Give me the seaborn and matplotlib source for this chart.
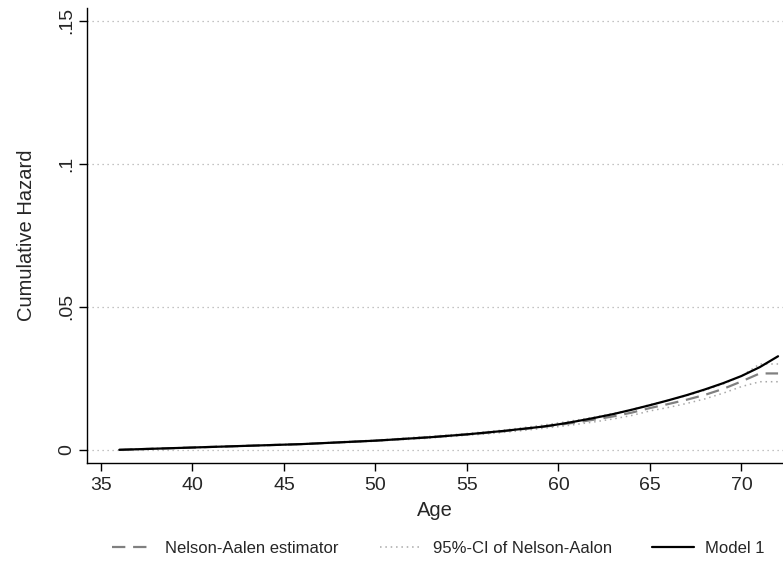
import matplotlib
matplotlib.use("Agg")
import matplotlib.pyplot as plt
import seaborn as sns
import numpy as np
import pandas as pd
from matplotlib.lines import Line2D

ages = list(range(36, 73))
model1 = [0.0000, 0.0002, 0.0004, 0.0006, 0.0008, 0.0010, 0.0012, 0.0014, 0.0016, 0.0018,
          0.0020, 0.0023, 0.0026, 0.0029, 0.0032, 0.0036, 0.0040, 0.0044, 0.0049, 0.0054,
          0.0060, 0.0066, 0.0073, 0.0080, 0.0089, 0.0100, 0.0112, 0.0125, 0.0140, 0.0156,
          0.0173, 0.0191, 0.0211, 0.0233, 0.0258, 0.0289, 0.0327]
nelson_aalen = [0.0000, 0.0002, 0.0004, 0.0006, 0.0008, 0.0010, 0.0012, 0.0014, 0.0016, 0.0018,
                0.0020, 0.0023, 0.0026, 0.0029, 0.0032, 0.0036, 0.0040, 0.0044, 0.0049, 0.0054,
                0.0059, 0.0065, 0.0072, 0.0079, 0.0087, 0.0096, 0.0106, 0.0117, 0.0130, 0.0146,
                0.0160, 0.0175, 0.0192, 0.0213, 0.0239, 0.0267, 0.0267]
ci_lower = [0.0000, 0.0001, 0.0003, 0.0005, 0.0007, 0.0009, 0.0011, 0.0013, 0.0015, 0.0017,
            0.0019, 0.0022, 0.0024, 0.0027, 0.0030, 0.0034, 0.0037, 0.0041, 0.0046, 0.0051,
            0.0055, 0.0061, 0.0067, 0.0074, 0.0081, 0.0089, 0.0098, 0.0108, 0.0120, 0.0136,
            0.0148, 0.0162, 0.0178, 0.0198, 0.0221, 0.0238, 0.0238]
ci_upper = [0.0000, 0.0003, 0.0005, 0.0007, 0.0009, 0.0011, 0.0013, 0.0015, 0.0017, 0.0019,
            0.0021, 0.0024, 0.0028, 0.0031, 0.0034, 0.0038, 0.0043, 0.0047, 0.0052, 0.0057,
            0.0063, 0.0069, 0.0077, 0.0085, 0.0094, 0.0104, 0.0115, 0.0127, 0.0141, 0.0158,
            0.0173, 0.0189, 0.0208, 0.0230, 0.0258, 0.0300, 0.0300]

x_ticks = [35, 40, 45, 50, 55, 60, 65, 70]
y_ticks = [0, 0.05, 0.1, 0.15]
y_ticklabels = ["0", ".05", ".1", ".15"]
legend_labels = ["Nelson-Aalen estimator", "95%-CI of Nelson-Aalon", "Model 1"]

sns.set_theme(style="white")
plt.rcParams["font.family"] = ["Liberation Sans", "DejaVu Sans"]

fig = plt.figure(figsize=(7.83, 5.61), dpi=100)
ax = fig.add_axes([0.111, 0.175, 0.889, 0.811])

for yv in y_ticks:
    ax.axhline(yv, color="#b0b0b0", lw=0.9, ls=(0, (1, 3)), zorder=0)

df = pd.DataFrame({"age": ages, "m1": model1, "na": nelson_aalen, "lo": ci_lower, "hi": ci_upper})

ci_style = dict(color="#a8a8a8", lw=1.1, ls=(0, (1, 2.5)))
na_style = dict(color="#808080", lw=1.6, ls=(0, (6, 3.5)))
m1_style = dict(color="black", lw=1.6, ls="-")

sns.lineplot(data=df, x="age", y="lo", ax=ax, **ci_style)
sns.lineplot(data=df, x="age", y="hi", ax=ax, **ci_style)
sns.lineplot(data=df, x="age", y="na", ax=ax, **na_style)
sns.lineplot(data=df, x="age", y="m1", ax=ax, **m1_style)

ax.set_xlim(34.23, 72.27)
ax.set_ylim(-0.00455, 0.1545)
ax.set_xticks(x_ticks)
ax.set_yticks(y_ticks)
ax.set_yticklabels(y_ticklabels, rotation=90, va="center")
ax.tick_params(axis="x", direction="out", length=6, width=1, color="black",
               labelsize=14, bottom=True, pad=4.5)
ax.tick_params(axis="y", direction="out", length=6, width=1, color="black",
               labelsize=14, left=True, pad=2.5)
ax.set_xlabel("Age", fontsize=14.5, labelpad=5)
ax.set_ylabel("Cumulative Hazard", fontsize=14.5, labelpad=16)

for s in ["top", "right"]:
    ax.spines[s].set_visible(False)
for s in ["left", "bottom"]:
    ax.spines[s].set_color("black")
    ax.spines[s].set_linewidth(1)

handles = [Line2D([], [], **na_style), Line2D([], [], **ci_style), Line2D([], [], **m1_style)]
x_starts = [112 / 783, 380 / 783, 652 / 783]
for h, lab, xs in zip(handles, legend_labels, x_starts):
    leg = fig.legend([h], [lab], loc="center left", bbox_to_anchor=(xs, 0.022), frameon=False,
                     fontsize=12, handlelength=2.5, handletextpad=0.7, borderpad=0, borderaxespad=0)

fig.savefig("out.png", dpi=100, facecolor="white")
